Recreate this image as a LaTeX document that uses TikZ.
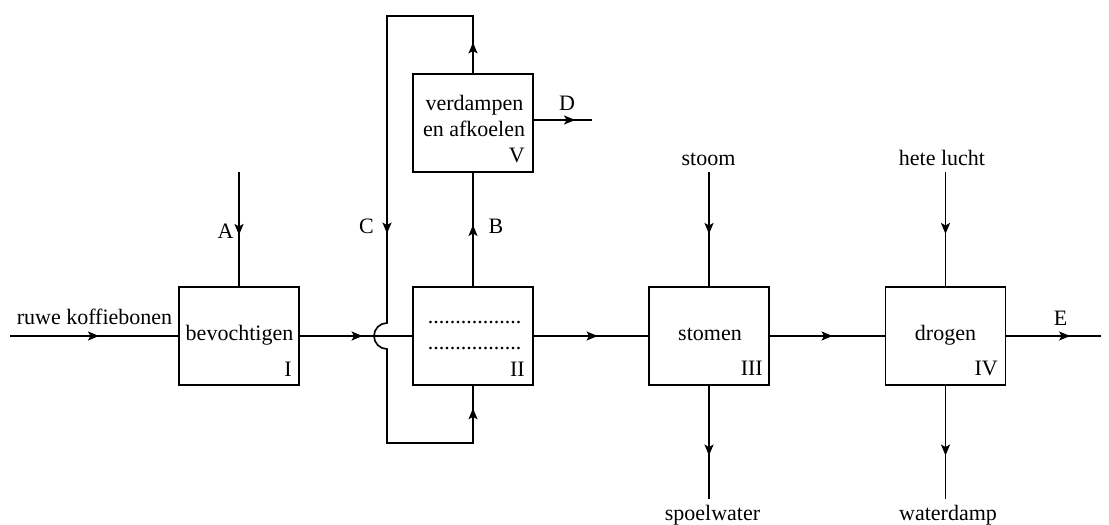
\documentclass[tikz,border=0pt]{standalone}
\usepackage{fontspec}
\setmainfont{Liberation Serif}
\usetikzlibrary{arrows.meta,decorations.markings}
\begin{document}
\begin{tikzpicture}[x=1pt,y=-1pt,font=\fontsize{22}{26}\selectfont]
\tikzset{
 box/.style={draw, line width=1.1pt, minimum width=120pt, minimum height=98pt, inner sep=0pt},
 flow/.style={line width=1.6pt, line join=miter},
 arrowat/.style={postaction={decorate, decoration={markings, mark=at position #1 with {\arrow{Stealth[length=11pt,width=9pt,inset=2.5pt]}}}}},
 lbl/.style={inner sep=0pt, anchor=base},
 num/.style={inner sep=0pt, anchor=base east},
}
\useasboundingbox (0,0) rectangle (1109,525);
% boxes
\node[box] (I) at (239,336) {};
\node[box] (II) at (473,336) {};
\node[box] (V) at (473,123) {};
\node[box] (III) at (709,336) {};
\node[box] (IV) at (945.5,336) {};
% box texts
\node[lbl] (tI) at (239.5,340) {bevochtigen};
\node[num] (nI) at (292,376) {I};
\node[lbl] (d1) at (474.5,323) {.................};
\node[lbl] (d2) at (474.5,349) {.................};
\node[num] (nII) at (525,376) {II};
\node[lbl] (tV1) at (474.5,110) {verdampen};
\node[lbl] (tV2) at (474,136) {en afkoelen};
\node[num] (nV) at (525,162) {V};
\node[lbl] (tIII) at (710,340) {stomen};
\node[num] (nIII) at (763,375) {III};
\node[lbl] (tIV) at (945.5,340) {drogen};
\node[num] (nIV) at (998,375) {IV};
% outside labels
\node[lbl] (raw) at (94.5,324) {ruwe koffiebonen};
\node[lbl] (lA) at (225.5,238) {A};
\node[lbl] (lB) at (496,233) {B};
\node[lbl] (lC) at (366.5,233) {C};
\node[lbl] (lD) at (567,110) {D};
\node[lbl] (lE) at (1060.5,325) {E};
\node[lbl] (lstoom) at (708.5,165) {stoom};
\node[lbl] (lhete) at (942,165) {hete lucht};
\node[lbl] (lspoel) at (712.5,520) {spoelwater};
\node[lbl] (lwater) at (948,520) {waterdamp};
% coordinates
\coordinate (in) at (10,336);
\coordinate (Eend) at (1101,336);
\coordinate (Atop) at (239,172);
\coordinate (Stop) at (709,172);
\coordinate (Htop) at (945.5,172);
\coordinate (Sbot) at (709,499);
\coordinate (Hbot) at (945.5,499);
\coordinate (Dend) at (592,120);
\coordinate (cTR) at (473,16);
\coordinate (cTL) at (387,16);
\coordinate (hopTop) at (387,323);
\coordinate (cBL) at (387,443);
\coordinate (cBR) at (473,443);
% main line
\draw[flow, arrowat=89pt] (in) -- (I.west);
\draw[flow, arrowat=63pt] (I.east) -- (II.west);
\draw[flow, arrowat=64pt] (II.east) -- (III.west);
\draw[flow, arrowat=63pt] (III.east) -- (IV.west);
\draw[flow, arrowat=64pt] (IV.east) -- (Eend);
% verticals
\draw[flow, arrowat=63pt] (Atop) -- (I.north);
\draw[flow, arrowat=62pt] (Stop) -- (III.north);
\draw[flow, arrowat=62pt] (Htop) -- (IV.north);
\draw[flow, arrowat=70pt] (III.south) -- (Sbot);
\draw[flow, arrowat=70pt] (IV.south) -- (Hbot);
\draw[flow, arrowat=61.5pt] (II.north) -- (V.south);
\draw[flow, arrowat=41.5pt] ([yshift=3pt]V.east) -- (Dend);
% recycle loop
\draw[flow, arrowat=31pt, arrowat=361pt, arrowat=706pt]
  (V.north) -- (cTR) -- (cTL) -- (hopTop)
  arc[start angle=90, end angle=270, radius=13pt]
  -- (cBL) -- (cBR) -- (II.south);
\end{tikzpicture}
\end{document}
